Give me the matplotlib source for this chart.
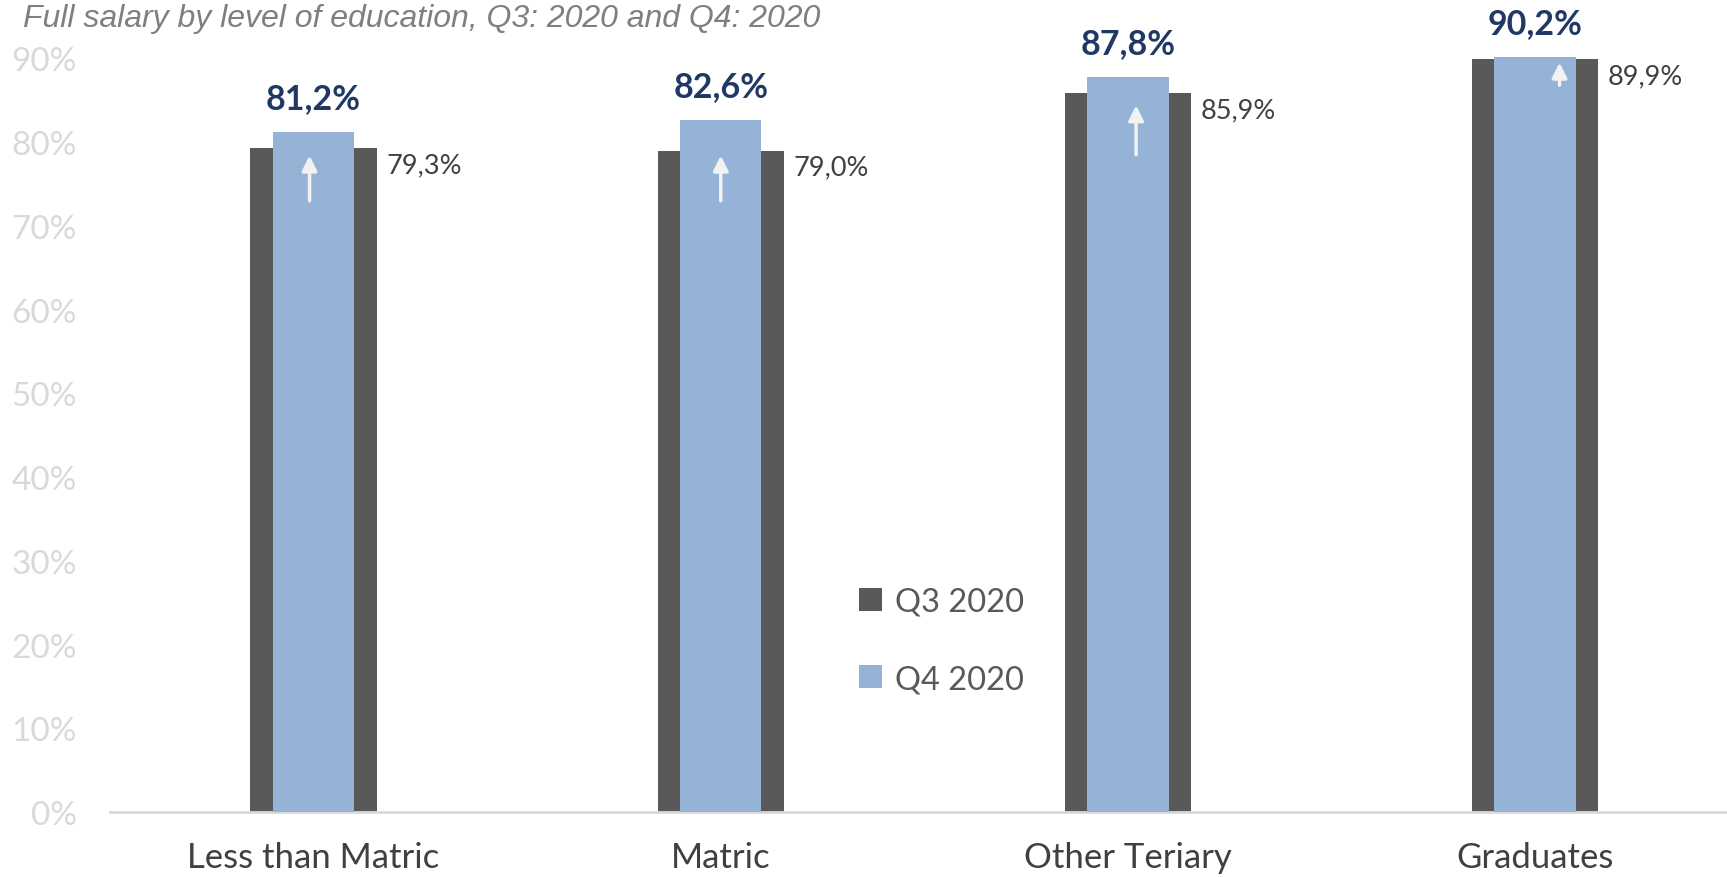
import matplotlib.pyplot as plt
import numpy as np

categories = ["Less than Matric", "Matric", "Other Teriary", "Graduates"]
q3_2020 = [79.3, 79.0, 85.9, 89.9]
q4_2020 = [81.2, 82.6, 87.8, 90.2]
yticks = [0, 10, 20, 30, 40, 50, 60, 70, 80, 90]

# decorative arrows inside the Q4 bars: (x offset, tail, tip)
arrows = [(-0.01, 73.0, 78.4), (0.0, 73.0, 78.4), (0.02, 78.5, 84.4), (0.06, 86.8, 89.5)]

plt.rcParams['font.family'] = ['Lato', 'DejaVu Sans']

fig = plt.figure(figsize=(17.27, 8.78), dpi=100)
ax = fig.add_axes([0.0637, 0.074, 0.936, 0.906])

x = np.arange(len(categories))
dark = "#595959"
light = "#95B3D7"

ax.bar(x, q3_2020, width=0.31, color=dark, label="Q3 2020", zorder=2)
ax.bar(x, q4_2020, width=0.2, color=light, label="Q4 2020", zorder=3)

for i in range(len(categories)):
    ax.annotate(f"{q4_2020[i]:.1f}%".replace(".", ","), (x[i], q4_2020[i]),
                xytext=(0, 13), textcoords="offset points", ha="center", va="bottom",
                fontsize=24.5, fontweight="bold", color="#1F3864", zorder=5)
    ax.annotate(f"{q3_2020[i]:.1f}%".replace(".", ","), (x[i] + 0.155, q3_2020[i]),
                xytext=(7, -12), textcoords="offset points", ha="left", va="center",
                fontsize=19.5, color="#404040", zorder=5)

for i, (dx, tail, tip) in enumerate(arrows):
    ax.annotate("", xy=(x[i] + dx, tip), xytext=(x[i] + dx, tail),
                arrowprops=dict(arrowstyle="-|>,head_length=0.9,head_width=0.45",
                                color="#F2F2F2", lw=2.5, shrinkA=0, shrinkB=0),
                zorder=4)

ax.set_xlim(-0.5, 3.47)
ax.set_ylim(0, 95)
ax.set_yticks(yticks)
ax.set_yticklabels([f"{t}%" for t in yticks])
ax.set_xticks(x)
ax.set_xticklabels(categories)
ax.tick_params(axis="y", length=0, pad=24, labelsize=24, labelcolor="#D9D9D9")
ax.tick_params(axis="x", length=0, pad=21, labelsize=25, labelcolor="#404040")

for s in ["top", "right", "left"]:
    ax.spines[s].set_visible(False)
ax.spines["bottom"].set_color("#D9D9D9")
ax.spines["bottom"].set_linewidth(2)

ax.legend(loc="upper left", bbox_to_anchor=(0.445, 0.32), frameon=False,
          fontsize=23.5, handlelength=0.7, handleheight=0.7, handletextpad=0.4,
          labelspacing=1.45, labelcolor="#595959")

fig.text(0.0133, 1 - 27 / 878, "Full salary by level of education, Q3: 2020 and Q4: 2020",
         fontsize=23, style="italic", color="#7F7F7F", family="Liberation Sans",
         ha="left", va="baseline")

fig.savefig("out.png", dpi=100)
